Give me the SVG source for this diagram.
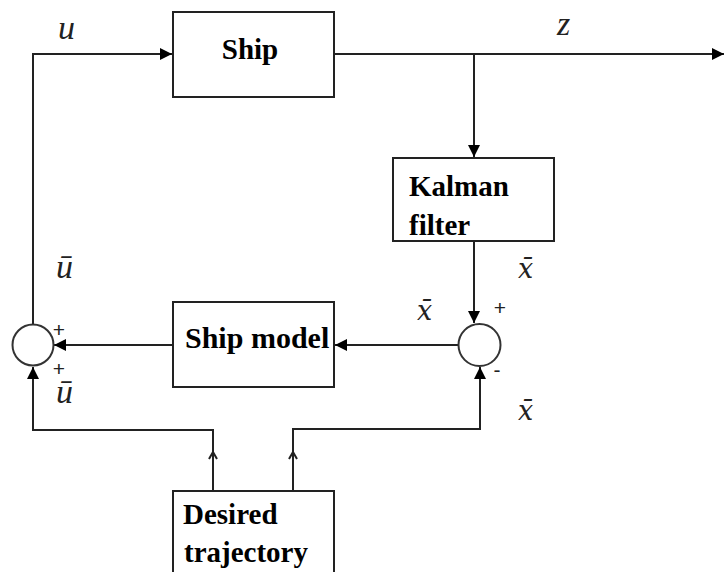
<svg xmlns="http://www.w3.org/2000/svg" width="725" height="572" viewBox="0 0 725 572">
<style>
.box{fill:#fff;stroke:#222;stroke-width:2}
.sum{fill:#fff;stroke:#333;stroke-width:2}
.lbl{font-family:'Liberation Serif','Times New Roman',serif;font-weight:bold;font-size:29px;fill:#000}
.math{font-family:'Liberation Serif','Times New Roman',serif;font-style:italic;font-size:34px;fill:#222}
.mx{font-family:'DejaVu Serif',serif;font-style:italic;font-size:27px;fill:#222}
.sign{font-family:'Liberation Sans',Arial,sans-serif;font-size:21px;fill:#222}
.wire{fill:none;stroke:#222;stroke-width:2}
</style>
<defs>
<marker id="arr" markerUnits="userSpaceOnUse" markerWidth="14" markerHeight="14" refX="12" refY="7" orient="auto">
<path d="M0,1 L12,7 L0,13 Z" fill="#000"/>
</marker>
</defs>
<g id="connectors">
<path class="wire" d="M33,324 V54 H172" marker-end="url(#arr)"/>
<path class="wire" d="M334,54 H724" marker-end="url(#arr)"/>
<path class="wire" d="M474,54 V157" marker-end="url(#arr)"/>
<path class="wire" d="M474,241 V323" marker-end="url(#arr)"/>
<path class="wire" d="M458,345 H335" marker-end="url(#arr)"/>
<path class="wire" d="M173,345 H54" marker-end="url(#arr)"/>
<path class="wire" d="M213,491 V430 H33 V367" marker-end="url(#arr)"/>
<path class="wire" d="M293,491 V429 H480 V367" marker-end="url(#arr)"/>
<path class="wire" d="M209,459 L213,452 L217,459" stroke-width="1.5"/>
<path class="wire" d="M289,459 L293,452 L297,459" stroke-width="1.5"/>
</g>
<g id="ship">
<rect class="box" x="173" y="12" width="161" height="85"/>
<text class="lbl" x="250" y="59" text-anchor="middle">Ship</text>
</g>
<g id="kalman">
<rect class="box" x="393" y="158" width="161" height="83"/>
<text class="lbl" x="409" y="196">Kalman</text>
<text class="lbl" x="409" y="235">filter</text>
</g>
<g id="shipmodel">
<rect class="box" x="173" y="302" width="161" height="85"/>
<text class="lbl" x="185" y="348" style="font-size:30px">Ship model</text>
</g>
<g id="desired">
<rect class="box" x="173" y="491" width="161" height="100"/>
<text class="lbl" x="183" y="524">Desired</text>
<text class="lbl" x="184" y="562">trajectory</text>
</g>
<g id="sumleft">
<circle class="sum" cx="33" cy="345" r="20.5"/>
<text class="sign" x="59" y="337" text-anchor="middle">+</text>
<text class="sign" x="59" y="376" text-anchor="middle">+</text>
</g>
<g id="sumright">
<circle class="sum" cx="479.5" cy="345" r="21"/>
<text class="sign" x="500" y="315" text-anchor="middle">+</text>
<text class="sign" x="497" y="377" text-anchor="middle">-</text>
</g>
<g id="labels">
<text class="math" x="58" y="39">u</text>
<text class="math" x="557" y="35">z</text>
<text class="math" x="56" y="278">ū</text>
<text class="math" x="56" y="403">ū</text>
<text class="mx" x="518" y="278">x̄</text>
<text class="mx" x="417" y="320">x̄</text>
<text class="mx" x="518" y="420">x̄</text>
</g>
</svg>
